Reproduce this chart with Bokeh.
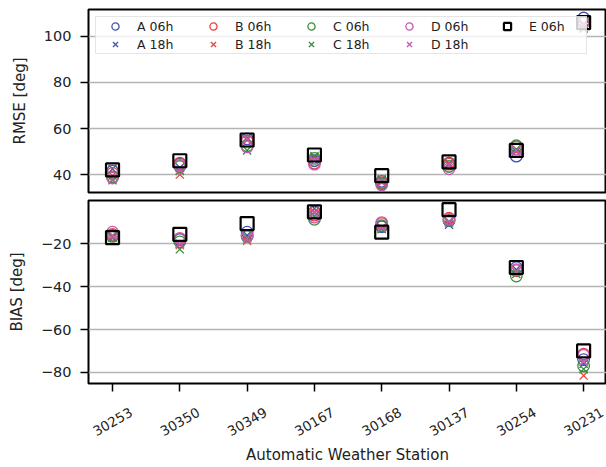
import math
from bokeh.plotting import figure
from bokeh.layouts import column
from bokeh.models import Range1d, FixedTicker, Legend, LegendItem, LabelSet, Label, ColumnDataSource
from bokeh.core.properties import value
from bokeh.embed import file_html
from bokeh.resources import INLINE

stations = ["30253", "30350", "30349", "30167", "30168", "30137", "30254", "30231"]

rmse_A06 = [41.5, 44.5, 55.5, 46.0, 37.0, 45.0, 48.0, 108.0]
rmse_A18 = [42.5, 43.0, 56.0, 47.0, 37.5, 44.5, 50.0, 103.5]
rmse_B06 = [40.5, 45.0, 54.5, 45.0, 36.5, 44.5, 52.0, 106.0]
rmse_B18 = [39.5, 40.0, 55.0, 47.5, 37.0, 45.0, 50.5, 105.5]
rmse_C06 = [39.0, 43.5, 52.5, 47.0, 36.0, 43.5, 52.5, 106.5]
rmse_C18 = [37.5, 41.5, 50.5, 48.0, 38.0, 44.0, 51.0, 105.0]
rmse_D06 = [38.5, 44.0, 52.0, 44.5, 35.5, 42.5, 51.0, 106.0]
rmse_D18 = [38.0, 42.0, 55.5, 46.0, 36.5, 44.0, 50.5, 105.5]
rmse_E06 = [42.0, 46.0, 55.0, 48.5, 39.5, 45.5, 50.5, 106.0]

bias_A06 = [-16.0, -18.0, -14.5, -5.0, -12.0, -9.0, -31.0, -74.0]
bias_A18 = [-17.0, -20.0, -16.0, -3.5, -13.0, -11.0, -32.0, -76.0]
bias_B06 = [-15.5, -17.5, -16.0, -6.5, -10.5, -8.0, -32.5, -71.5]
bias_B18 = [-16.5, -20.5, -18.5, -5.0, -12.5, -9.5, -33.0, -81.5]
bias_C06 = [-16.5, -19.0, -16.5, -8.5, -11.5, -9.0, -35.0, -77.0]
bias_C18 = [-17.0, -22.5, -17.0, -7.0, -13.0, -10.0, -34.0, -78.5]
bias_D06 = [-14.5, -17.5, -16.0, -7.5, -10.0, -8.5, -32.0, -72.0]
bias_D18 = [-16.0, -20.0, -17.5, -5.5, -12.5, -9.5, -33.0, -75.0]
bias_E06 = [-17.0, -15.5, -10.5, -5.0, -14.5, -4.0, -31.0, -70.0]

rmse_ticks = [40, 60, 80, 100]
bias_ticks = [-80, -60, -40, -20]
bias_tick_labels = ["\u221280", "\u221260", "\u221240", "\u221220"]

series_names = ["A", "B", "C", "D"]
series_colors = ["#4453ad", "#e8423a", "#3a8c3c", "#c45ab8"]

FONT = "DejaVu Sans"
TXT = "#222222"
xs = list(range(len(stations)))


def style(p, ticks):
    p.outline_line_color = "black"
    p.outline_line_width = 2
    p.xgrid.visible = False
    p.ygrid.grid_line_color = "#b4b4b4"
    p.ygrid.grid_line_width = 1.5
    p.ygrid.ticker = FixedTicker(ticks=ticks)
    p.yaxis.ticker = FixedTicker(ticks=ticks)
    for ax in p.axis:
        ax.axis_line_color = None
        ax.major_tick_out = 8
        ax.major_tick_in = 0
        ax.major_tick_line_width = 1.5
        ax.major_tick_line_color = "black"
        ax.minor_tick_out = 0
        ax.minor_tick_in = 0
        ax.major_label_text_font = FONT
        ax.major_label_text_font_size = "14.5px"
        ax.major_label_text_color = TXT
        ax.major_label_standoff = 9
        ax.axis_label_text_font = FONT
        ax.axis_label_text_font_size = "15px"
        ax.axis_label_text_font_style = "normal"
        ax.axis_label_text_color = TXT
        ax.axis_label_standoff = 12


def add_points(p, data06, data18, dataE):
    rs = []
    for name, col, d06, d18 in zip(series_names, series_colors, data06, data18):
        r1 = p.scatter(xs, d06, marker="circle", size=11.5, fill_color=None,
                       line_color=col, line_width=1.3)
        r2 = p.scatter(xs, d18, marker="x", size=11.5, line_color=col, line_width=1.3)
        rs.append((name + " 06h", r1))
        rs.append((name + " 18h", r2))
    rE = p.scatter(xs, dataE, marker="square", size=13, fill_color=None,
                   line_color="black", line_width=2.2)
    rs.append(("E 06h", rE))
    return rs


x_range = Range1d(-0.357, 7.34)

# --- RMSE panel ---
top = figure(width=606, height=196, x_range=x_range, y_range=Range1d(32.2, 111.7),
             output_backend="svg", toolbar_location=None, x_axis_location=None,
             min_border_left=88, min_border_right=0, min_border_top=9, min_border_bottom=4)
top.yaxis.axis_label = "RMSE [deg]"
style(top, rmse_ticks)
items = add_points(top,
                   [rmse_A06, rmse_B06, rmse_C06, rmse_D06],
                   [rmse_A18, rmse_B18, rmse_C18, rmse_D18],
                   rmse_E06)
legend = Legend(items=[LegendItem(label=l, renderers=[r]) for l, r in items],
                location="top_left", orientation="vertical", nrows=2,
                margin=7, padding=0, spacing=0,
                glyph_width=38, glyph_height=18, label_height=18, label_width=57,
                label_standoff=3,
                label_text_font=FONT, label_text_font_size="12.5px",
                label_text_color=TXT,
                border_line_color="#cccccc", border_line_width=1.5,
                background_fill_color="white", background_fill_alpha=0.8)
top.add_layout(legend)

# --- BIAS panel ---
bot = figure(width=606, height=196, x_range=x_range, y_range=Range1d(-85.2, 0.3),
             output_backend="svg", toolbar_location=None,
             min_border_left=88, min_border_right=0, min_border_top=4, min_border_bottom=9)
bot.yaxis.axis_label = "BIAS [deg]"
style(bot, bias_ticks)
bot.yaxis.major_label_overrides = {t: l for t, l in zip(bias_ticks, bias_tick_labels)}
bot.xaxis.ticker = FixedTicker(ticks=xs)
bot.xaxis.major_label_text_font_size = "0px"
bot.xaxis.major_label_standoff = 0
bot.xaxis.major_label_overrides = {i: "" for i in xs}
add_points(bot,
           [bias_A06, bias_B06, bias_C06, bias_D06],
           [bias_A18, bias_B18, bias_C18, bias_D18],
           bias_E06)

# --- station names and axis title strip ---
lab = figure(width=606, height=75, x_range=x_range, y_range=Range1d(0, 75),
             output_backend="svg", toolbar_location=None,
             x_axis_location=None, y_axis_location=None,
             min_border_left=88, min_border_right=0, min_border_top=0, min_border_bottom=0)
lab.outline_line_color = None
lab.grid.visible = False
station_src = ColumnDataSource(dict(x=xs, name=stations))
lab.add_layout(LabelSet(x="x", y=46, text="name", source=station_src,
                        angle=math.pi / 6, text_align="center", text_baseline="middle",
                        text_font=value(FONT), text_font_size=value("13.5px"),
                        text_color=value(TXT)))
lab.add_layout(Label(x=(x_range.start + x_range.end) / 2, y=13,
                     text="Automatic Weather Station",
                     text_align="center", text_baseline="middle",
                     text_font=FONT, text_font_size="15px", text_color=TXT))

layout = column(top, bot, lab, spacing=0)
open("out.html", "w").write(file_html(layout, INLINE))
